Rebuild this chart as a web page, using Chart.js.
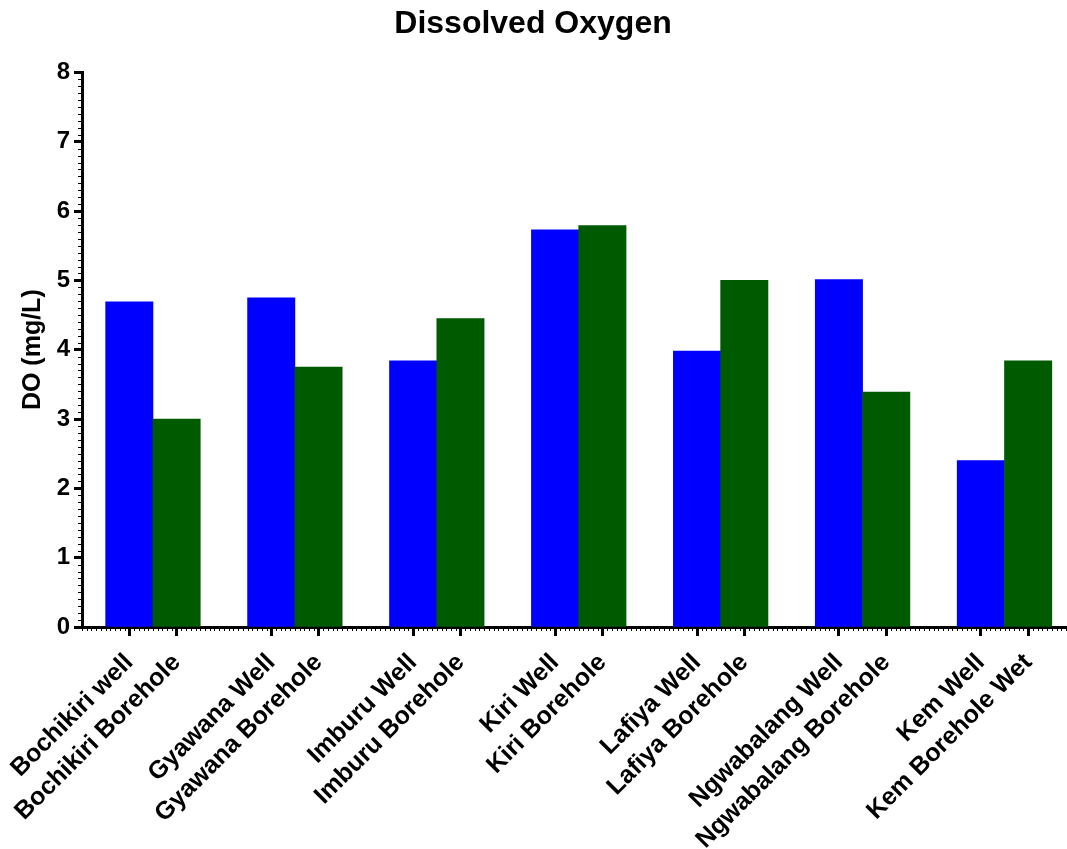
<!DOCTYPE html>
<html>
<head>
<meta charset="utf-8">
<script src="https://cdn.jsdelivr.net/npm/chart.js@4/dist/chart.umd.min.js"></script>
<style>
html,body{margin:0;padding:0;background:#fff;}
#wrap{width:1067px;height:849px;position:relative;}
</style>
</head>
<body>
<div id="wrap"><canvas id="c"></canvas></div>
<script>
// ---- data ----
const siteLabels = [
  'Bochikiri well', 'Bochikiri Borehole',
  'Gyawana Well', 'Gyawana Borehole',
  'Imburu Well', 'Imburu Borehole',
  'Kiri Well', 'Kiri Borehole',
  'Lafiya Well', 'Lafiya Borehole',
  'Ngwabalang Well', 'Ngwabalang Borehole',
  'Kem Well', 'Kem Borehole Wet'
];
const sourceTypes = ['Well','Borehole','Well','Borehole','Well','Borehole','Well','Borehole','Well','Borehole','Well','Borehole','Well','Borehole'];
const doValues = [4.69, 3.00, 4.75, 3.75, 3.84, 4.45, 5.73, 5.79, 3.98, 5.00, 5.01, 3.39, 2.40, 3.84];
const yTickValues = [0, 1, 2, 3, 4, 5, 6, 7, 8];

const typeColors = { Well: '#0000FF', Borehole: '#005A00' };

// bar positions: pairs separated by one empty slot
const xPos = siteLabels.map((_, i) => Math.floor(i / 2) * 3 + (i % 2) + 1);

const FONT = 'Liberation Sans, Arial, Helvetica, sans-serif';
Chart.defaults.font.family = FONT;
Chart.defaults.color = '#000';

const minorTicks = {
  id: 'minorTicks',
  afterDraw(chart) {
    const { ctx, scales: { x, y }, chartArea } = chart;
    ctx.save();
    ctx.strokeStyle = '#000';
    ctx.lineWidth = 1;
    ctx.beginPath();
    for (let k = 0; k <= 80; k++) {
      const py = Math.round(y.getPixelForValue(k / 10)) + 0.5;
      ctx.moveTo(chartArea.left - 4, py);
      ctx.lineTo(chartArea.left, py);
    }
    const kmax = Math.floor(x.max * 10 + 1e-6);
    for (let k = 0; k <= kmax; k++) {
      const px = Math.round(x.getPixelForValue(k / 10)) + 0.5;
      ctx.moveTo(px, chartArea.bottom);
      ctx.lineTo(px, chartArea.bottom + 4);
    }
    ctx.stroke();
    ctx.restore();
  }
};

new Chart(document.getElementById('c'), {
  type: 'bar',
  data: {
    datasets: [{
      data: doValues.map((v, i) => ({ x: xPos[i], y: v })),
      backgroundColor: sourceTypes.map(t => typeColors[t]),
      borderWidth: 0,
      categoryPercentage: 1,
      barPercentage: 1
    }]
  },
  options: {
    responsive: true,
    maintainAspectRatio: false,
    animation: false,
    layout: { padding: { right: 1, left: 0, top: 0, bottom: 0 } },
    plugins: {
      legend: { display: false },
      tooltip: { enabled: false },
      title: {
        display: true,
        text: 'Dissolved Oxygen',
        color: '#000',
        font: { family: FONT, size: 32, weight: 'bold' },
        padding: { top: 5, bottom: 29 }
      }
    },
    scales: {
      x: {
        type: 'linear',
        offset: false,
        min: 0,
        max: 20.8,
        afterBuildTicks: (scale) => { scale.ticks = xPos.map(v => ({ value: v })); },
        afterFit: (scale) => { scale.height = 222; scale.paddingLeft = 0; scale.paddingRight = 0; },
        grid: { offset: false, drawOnChartArea: false, drawTicks: true, tickLength: 9, tickWidth: 3, tickColor: '#000' },
        border: { display: true, color: '#000', width: 3 },
        ticks: {
          autoSkip: false,
          minRotation: 45,
          maxRotation: 45,
          padding: 12,
          color: '#000',
          font: { family: FONT, size: 25, weight: 'bold' },
          callback: (value) => { const i = xPos.indexOf(value); return i >= 0 ? siteLabels[i] : ''; }
        }
      },
      y: {
        min: 0,
        max: 8,
        afterBuildTicks: (scale) => { scale.ticks = yTickValues.map(v => ({ value: v })); },
        afterFit: (scale) => { scale.width = 82; scale.paddingTop = 0; scale.paddingBottom = 0; },
        grid: { drawOnChartArea: false, drawTicks: true, tickLength: 8, tickWidth: 3, tickColor: '#000' },
        border: { display: true, color: '#000', width: 3 },
        ticks: {
          padding: 4,
          color: '#000',
          font: { family: FONT, size: 24, weight: 'bold' }
        },
        title: {
          display: true,
          text: 'DO (mg/L)',
          color: '#000',
          font: { family: FONT, size: 25, weight: 'bold' },
          padding: { top: 18, bottom: 0 }
        }
      }
    }
  },
  plugins: [minorTicks]
});
</script>
</body>
</html>
